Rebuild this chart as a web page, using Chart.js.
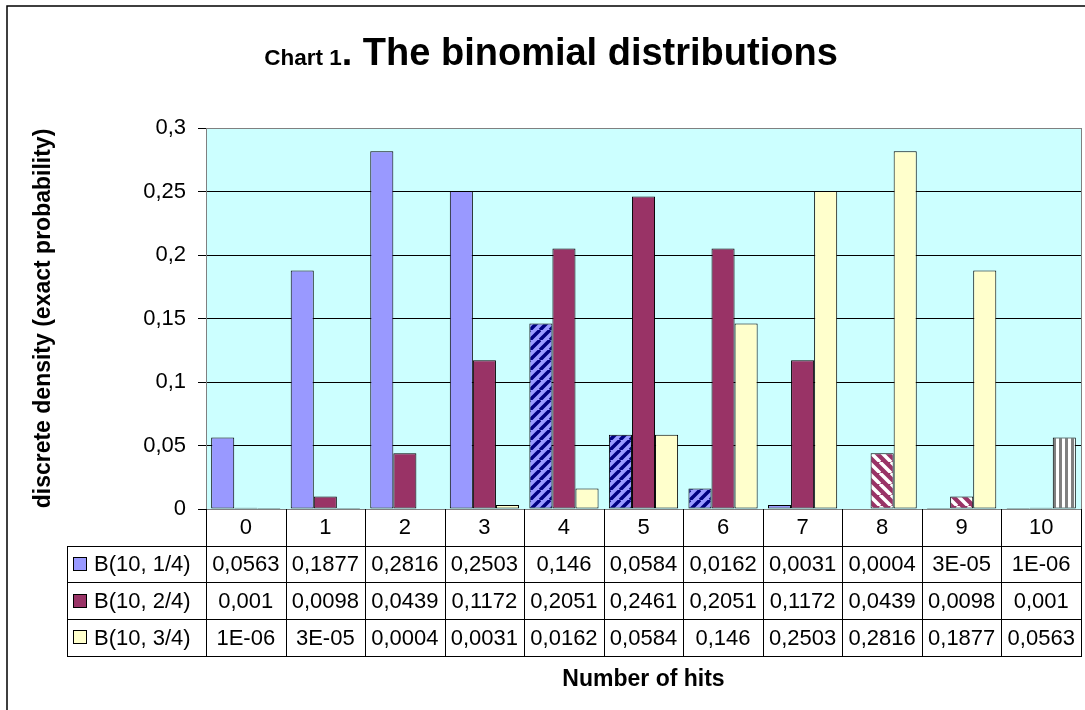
<!DOCTYPE html>
<html>
<head>
<meta charset="utf-8">
<script src="https://cdn.jsdelivr.net/npm/chart.js@4.4.0/dist/chart.umd.min.js"></script>
<style>
  body { margin: 0; background: #fff; }
  #wrap { width: 1085px; height: 710px; }
</style>
</head>
<body>
<div id="wrap"><canvas id="chart" width="1085" height="710"></canvas></div>
<script>
// values
const hits = ["0", "1", "2", "3", "4", "5", "6", "7", "8", "9", "10"];
const seriesNames = ["B(10, 1/4)", "B(10, 2/4)", "B(10, 3/4)"];
const pQuarter = [0.0563, 0.1877, 0.2816, 0.2503, 0.146, 0.0584, 0.0162, 0.0031, 0.0004, 0.00003, 0.000001];
const pHalf = [0.001, 0.0098, 0.0439, 0.1172, 0.2051, 0.2461, 0.2051, 0.1172, 0.0439, 0.0098, 0.001];
const pThreeQuarter = [0.000001, 0.00003, 0.0004, 0.0031, 0.0162, 0.0584, 0.146, 0.2503, 0.2816, 0.1877, 0.0563];
// bars that were drawn with a hatch fill
const hatchQuarter = [4, 5, 6];
const hatchHalf = [8, 9];
const hatchThreeQuarter = [10];

const FONT = "'Liberation Sans', Arial, sans-serif";
const colors = ["#9999FF", "#993366", "#FFFFCC"];

function fmt(v) {
  if (v < 0.0001) {
    var parts = v.toExponential(0).split("e");
    var n = Math.abs(+parts[1]);
    return parts[0] + "E-" + (n < 10 ? "0" : "") + n;
  }
  return String(v).replace(".", ",");
}

function makePattern(size, paint) {
  var c = document.createElement("canvas");
  c.width = size; c.height = size;
  var x = c.getContext("2d");
  paint(x, size);
  return x.createPattern(c, "repeat");
}

var navyUp = makePattern(10, function (x, s) {
  x.fillStyle = "#9999FF"; x.fillRect(0, 0, s, s);
  x.strokeStyle = "#000080"; x.lineWidth = 3.5;
  x.beginPath();
  [-s, 0, s].forEach(function (o) { x.moveTo(o, s); x.lineTo(o + s, 0); });
  x.stroke();
});
var whiteDown = makePattern(11, function (x, s) {
  x.fillStyle = "#993366"; x.fillRect(0, 0, s, s);
  x.strokeStyle = "#FFFFFF"; x.lineWidth = 3.5;
  x.beginPath();
  [-s, 0, s].forEach(function (o) { x.moveTo(o, 0); x.lineTo(o + s, s); });
  x.stroke();
});
var grayVert = makePattern(6, function (x, s) {
  x.fillStyle = "#FFFFFF"; x.fillRect(0, 0, s, s);
  x.fillStyle = "#808080"; x.fillRect(3, 0, 3, s);
});

function fills(values, base, hatch, pattern) {
  return values.map(function (_, i) { return hatch.indexOf(i) >= 0 ? pattern : base; });
}

const rowH = 36.7;

const tablePlugin = {
  id: "excelTable",
  beforeDraw: function (chart) {
    var ctx = chart.ctx, a = chart.chartArea;
    ctx.save();
    ctx.fillStyle = "#fff";
    ctx.fillRect(0, 0, chart.width, chart.height);
    ctx.strokeStyle = "#000";
    ctx.lineWidth = 1.5;
    ctx.strokeRect(7, 6, chart.width + 10, chart.height + 10);
    ctx.fillStyle = "#CCFFFF";
    ctx.fillRect(a.left, a.top, a.right - a.left, a.bottom - a.top);
    ctx.restore();
  },
  afterDatasetsDraw: function (chart) {
    var ctx = chart.ctx, a = chart.chartArea;
    ctx.save();
    ctx.strokeStyle = "#808080";
    ctx.lineWidth = 1;
    ctx.strokeRect(Math.round(a.left) + 0.5, Math.round(a.top) + 0.5, Math.round(a.right - a.left), Math.round(a.bottom - a.top));
    ctx.restore();
  },
  afterDraw: function (chart) {
    var ctx = chart.ctx, a = chart.chartArea;
    var xs = chart.scales.x;
    var w = (a.right - a.left) / hits.length;
    var top = a.bottom;
    var series = [pQuarter, pHalf, pThreeQuarter];
    ctx.save();

    // title with small "Chart 1" prefix
    var small = "Chart 1", big = ". The binomial distributions";
    ctx.font = "bold 22.5px " + FONT;
    var ws = ctx.measureText(small).width;
    ctx.font = "bold 38px " + FONT;
    var wb = ctx.measureText(big).width;
    var tx = 551 - (ws + wb) / 2;
    ctx.fillStyle = "#000";
    ctx.textBaseline = "alphabetic";
    ctx.textAlign = "left";
    ctx.font = "bold 22.5px " + FONT;
    ctx.fillText(small, tx, 65);
    ctx.font = "bold 38px " + FONT;
    ctx.fillText(big, tx + ws, 65);

    // table grid
    ctx.strokeStyle = "#000";
    ctx.lineWidth = 1;
    ctx.beginPath();
    for (var k = 1; k <= 4; k++) {
      var y = Math.round(top + k * rowH) + 0.5;
      ctx.moveTo(67, y); ctx.lineTo(a.right, y);
    }
    ctx.moveTo(67.5, Math.round(top + rowH)); ctx.lineTo(67.5, Math.round(top + 4 * rowH) + 1);
    for (var i = 0; i <= hits.length; i++) {
      var x = Math.round(a.left + i * w) + 0.5;
      ctx.moveTo(x, top); ctx.lineTo(x, Math.round(top + 4 * rowH) + 1);
    }
    ctx.stroke();

    // cell text
    ctx.font = "22px " + FONT;
    ctx.textAlign = "center";
    ctx.textBaseline = "middle";
    hits.forEach(function (h, i) {
      var cx = xs.getPixelForValue(i);
      ctx.fillText(h, cx, top + rowH / 2 + 1);
      series.forEach(function (s, r) {
        ctx.fillText(fmt(s[i]), cx, top + (r + 1.5) * rowH + 1);
      });
    });

    // legend keys in the row headers
    ctx.textAlign = "left";
    seriesNames.forEach(function (name, r) {
      var cy = top + (r + 1.5) * rowH;
      ctx.fillStyle = colors[r];
      ctx.fillRect(73.5, Math.round(cy - 7) + 0.5, 13, 13);
      ctx.strokeStyle = "#000";
      ctx.strokeRect(73.5, Math.round(cy - 7) + 0.5, 13, 13);
      ctx.fillStyle = "#000";
      ctx.fillText(name, 94, cy + 1);
    });

    // x axis title
    ctx.font = "bold 23px " + FONT;
    ctx.textAlign = "center";
    ctx.textBaseline = "alphabetic";
    ctx.fillText("Number of hits", (a.left + a.right) / 2, 686);
    ctx.restore();
  }
};

new Chart(document.getElementById("chart"), {
  type: "bar",
  data: {
    labels: hits,
    datasets: [
      { label: seriesNames[0], data: pQuarter, backgroundColor: fills(pQuarter, colors[0], hatchQuarter, navyUp) },
      { label: seriesNames[1], data: pHalf, backgroundColor: fills(pHalf, colors[1], hatchHalf, whiteDown) },
      { label: seriesNames[2], data: pThreeQuarter, backgroundColor: fills(pThreeQuarter, colors[2], hatchThreeQuarter, grayVert) }
    ]
  },
  options: {
    responsive: false,
    animation: false,
    events: [],
    layout: { padding: { left: 0, top: 128, right: 4, bottom: 201 } },
    datasets: {
      bar: {
        borderColor: "#000",
        borderWidth: 1,
        borderSkipped: false,
        categoryPercentage: 0.87,
        barPercentage: 1
      }
    },
    plugins: {
      legend: { display: false },
      title: { display: false },
      tooltip: { enabled: false }
    },
    scales: {
      x: { display: false },
      y: {
        min: 0,
        max: 0.3,
        ticks: {
          stepSize: 0.05,
          color: "#000",
          padding: 12,
          font: { family: FONT, size: 22 },
          callback: function (v) { return String(Math.round(v * 100) / 100).replace(".", ","); }
        },
        grid: { color: "#000", lineWidth: 1, tickLength: 8, drawTicks: true },
        border: { display: true, color: "#000" },
        title: {
          display: true,
          text: "discrete density (exact probability)",
          color: "#000",
          font: { family: FONT, size: 23, weight: "bold" },
          padding: { top: 30, bottom: 0 }
        },
        afterFit: function (scale) {
          scale.width = 206;
          scale.paddingTop = 0;
          scale.paddingBottom = 0;
        }
      }
    }
  },
  plugins: [tablePlugin]
});
</script>
</body>
</html>
